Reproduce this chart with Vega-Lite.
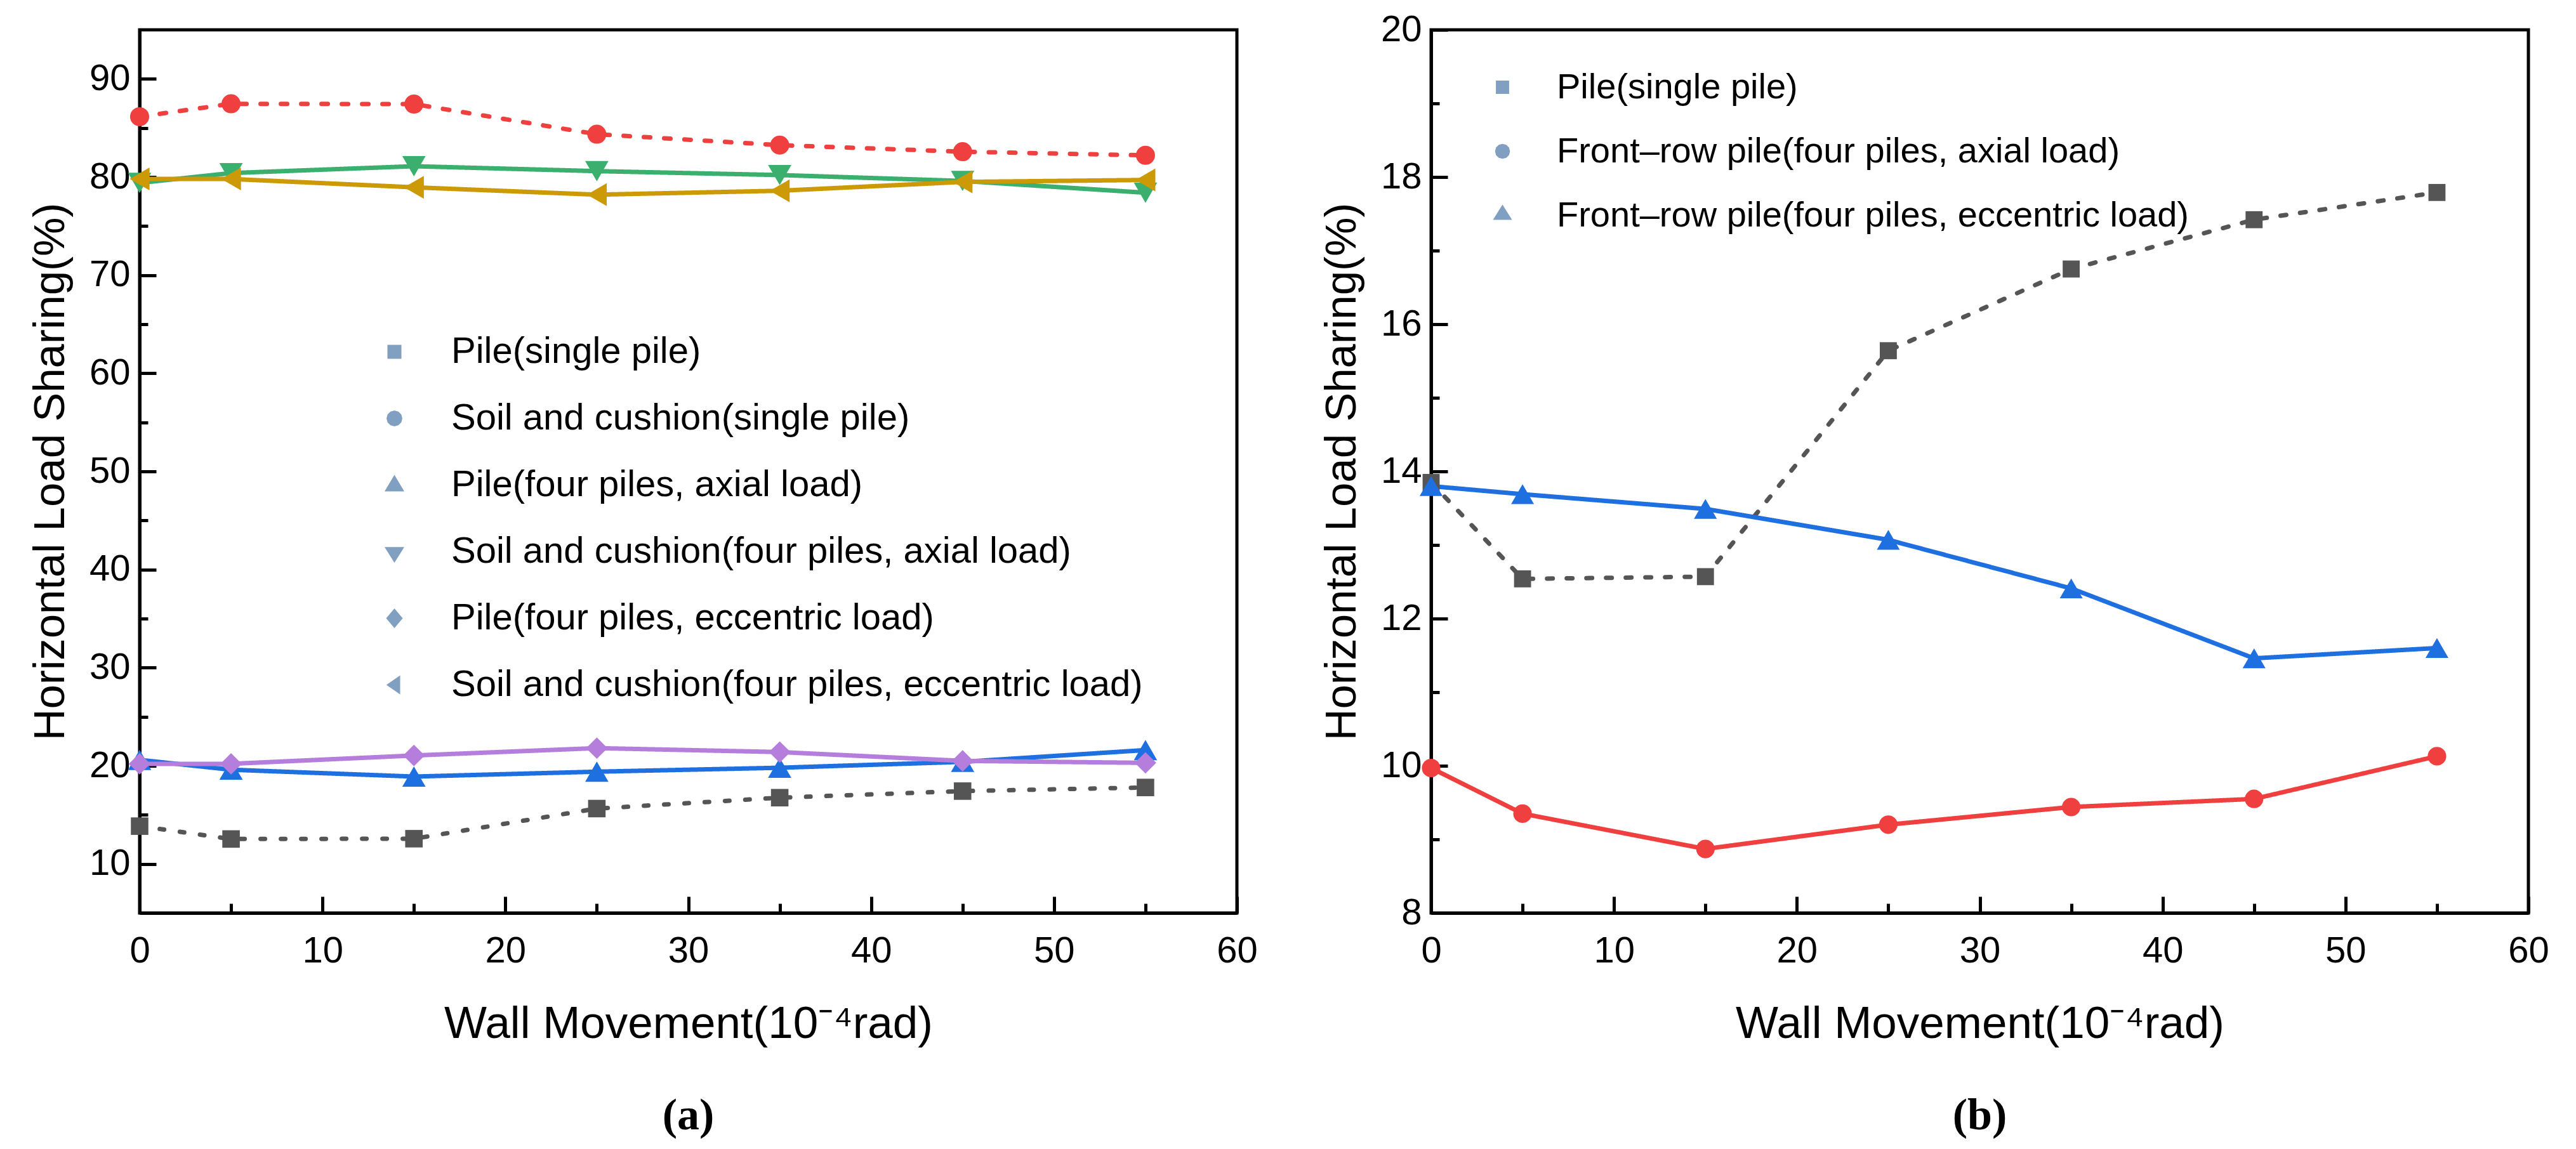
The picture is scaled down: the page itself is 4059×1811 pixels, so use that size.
{
  "$schema": "https://vega.github.io/schema/vega-lite/v6.json",
  "background": "white",
  "padding": {"left": 42, "top": 15, "right": 0, "bottom": 0},
  "datasets": {
    "a": [
      {"x": 0, "y": 13.85, "series": "Pile(single pile)"},
      {"x": 5, "y": 12.54, "series": "Pile(single pile)"},
      {"x": 15, "y": 12.57, "series": "Pile(single pile)"},
      {"x": 25, "y": 15.64, "series": "Pile(single pile)"},
      {"x": 35, "y": 16.75, "series": "Pile(single pile)"},
      {"x": 45, "y": 17.42, "series": "Pile(single pile)"},
      {"x": 55, "y": 17.79, "series": "Pile(single pile)"},
      {"x": 0, "y": 86.15, "series": "Soil and cushion(single pile)"},
      {"x": 5, "y": 87.46, "series": "Soil and cushion(single pile)"},
      {"x": 15, "y": 87.43, "series": "Soil and cushion(single pile)"},
      {"x": 25, "y": 84.36, "series": "Soil and cushion(single pile)"},
      {"x": 35, "y": 83.25, "series": "Soil and cushion(single pile)"},
      {"x": 45, "y": 82.58, "series": "Soil and cushion(single pile)"},
      {"x": 55, "y": 82.21, "series": "Soil and cushion(single pile)"},
      {"x": 0, "y": 20.6, "series": "Pile(four piles, axial load)"},
      {"x": 5, "y": 19.6, "series": "Pile(four piles, axial load)"},
      {"x": 15, "y": 18.9, "series": "Pile(four piles, axial load)"},
      {"x": 25, "y": 19.4, "series": "Pile(four piles, axial load)"},
      {"x": 35, "y": 19.8, "series": "Pile(four piles, axial load)"},
      {"x": 45, "y": 20.4, "series": "Pile(four piles, axial load)"},
      {"x": 55, "y": 21.6, "series": "Pile(four piles, axial load)"},
      {"x": 0, "y": 79.4, "series": "Soil and cushion(four piles, axial load)"},
      {"x": 5, "y": 80.4, "series": "Soil and cushion(four piles, axial load)"},
      {"x": 15, "y": 81.1, "series": "Soil and cushion(four piles, axial load)"},
      {"x": 25, "y": 80.6, "series": "Soil and cushion(four piles, axial load)"},
      {"x": 35, "y": 80.2, "series": "Soil and cushion(four piles, axial load)"},
      {"x": 45, "y": 79.6, "series": "Soil and cushion(four piles, axial load)"},
      {"x": 55, "y": 78.4, "series": "Soil and cushion(four piles, axial load)"},
      {"x": 0, "y": 20.2, "series": "Pile(four piles, eccentric load)"},
      {"x": 5, "y": 20.2, "series": "Pile(four piles, eccentric load)"},
      {"x": 15, "y": 21.05, "series": "Pile(four piles, eccentric load)"},
      {"x": 25, "y": 21.8, "series": "Pile(four piles, eccentric load)"},
      {"x": 35, "y": 21.4, "series": "Pile(four piles, eccentric load)"},
      {"x": 45, "y": 20.5, "series": "Pile(four piles, eccentric load)"},
      {"x": 55, "y": 20.3, "series": "Pile(four piles, eccentric load)"},
      {"x": 0, "y": 79.8, "series": "Soil and cushion(four piles, eccentric load)"},
      {"x": 5, "y": 79.8, "series": "Soil and cushion(four piles, eccentric load)"},
      {"x": 15, "y": 78.95, "series": "Soil and cushion(four piles, eccentric load)"},
      {"x": 25, "y": 78.2, "series": "Soil and cushion(four piles, eccentric load)"},
      {"x": 35, "y": 78.6, "series": "Soil and cushion(four piles, eccentric load)"},
      {"x": 45, "y": 79.5, "series": "Soil and cushion(four piles, eccentric load)"},
      {"x": 55, "y": 79.7, "series": "Soil and cushion(four piles, eccentric load)"}
    ],
    "b": [
      {"x": 0, "y": 13.85, "series": "Pile(single pile)"},
      {"x": 5, "y": 12.54, "series": "Pile(single pile)"},
      {"x": 15, "y": 12.57, "series": "Pile(single pile)"},
      {"x": 25, "y": 15.64, "series": "Pile(single pile)"},
      {"x": 35, "y": 16.75, "series": "Pile(single pile)"},
      {"x": 45, "y": 17.42, "series": "Pile(single pile)"},
      {"x": 55, "y": 17.79, "series": "Pile(single pile)"},
      {"x": 0, "y": 9.97, "series": "Front–row pile(four piles, axial load)"},
      {"x": 5, "y": 9.35, "series": "Front–row pile(four piles, axial load)"},
      {"x": 15, "y": 8.87, "series": "Front–row pile(four piles, axial load)"},
      {"x": 25, "y": 9.2, "series": "Front–row pile(four piles, axial load)"},
      {"x": 35, "y": 9.44, "series": "Front–row pile(four piles, axial load)"},
      {"x": 45, "y": 9.55, "series": "Front–row pile(four piles, axial load)"},
      {"x": 55, "y": 10.13, "series": "Front–row pile(four piles, axial load)"},
      {"x": 0, "y": 13.8, "series": "Front–row pile(four piles, eccentric load)"},
      {"x": 5, "y": 13.69, "series": "Front–row pile(four piles, eccentric load)"},
      {"x": 15, "y": 13.49, "series": "Front–row pile(four piles, eccentric load)"},
      {"x": 25, "y": 13.07, "series": "Front–row pile(four piles, eccentric load)"},
      {"x": 35, "y": 12.41, "series": "Front–row pile(four piles, eccentric load)"},
      {"x": 45, "y": 11.46, "series": "Front–row pile(four piles, eccentric load)"},
      {"x": 55, "y": 11.6, "series": "Front–row pile(four piles, eccentric load)"}
    ]
  },
  "spacing": 93,
  "resolve": {
    "scale": {"x": "independent", "y": "independent", "color": "independent", "shape": "independent", "strokeDash": "independent"},
    "legend": {"color": "independent", "shape": "independent", "strokeDash": "independent"}
  },
  "hconcat": [
    {
      "width": 1729,
      "height": 1392,
      "data": {"name": "a"},
      "title": {"text": "(a)", "orient": "bottom", "offset": 76},
      "layer": [
        {
          "mark": {"type": "line", "strokeWidth": 7, "strokeCap": "round"},
          "encoding": {
            "x": {"field": "x", "type": "quantitative", "scale": {"domain": [0, 60], "nice": false, "zero": false},
                  "axis": {"orient": "bottom", "values": [0, 10, 20, 30, 40, 50, 60], "title": "Wall Movement(10⁻⁴rad)"}},
            "y": {"field": "y", "type": "quantitative", "scale": {"domain": [5, 95], "nice": false, "zero": false},
                  "axis": {"orient": "left", "values": [10, 20, 30, 40, 50, 60, 70, 80, 90], "title": "Horizontal Load Sharing(%)"}},
            "color": {"field": "series", "type": "nominal", "legend": null,
                      "scale": {"domain": ["Pile(single pile)", "Soil and cushion(single pile)", "Pile(four piles, axial load)", "Soil and cushion(four piles, axial load)", "Pile(four piles, eccentric load)", "Soil and cushion(four piles, eccentric load)"],
                                "range": ["#555555", "#ef3f3f", "#1e6fe0", "#3aaf6e", "#b57edc", "#cc9a06"]}},
            "strokeDash": {"field": "series", "type": "nominal", "legend": null,
                           "scale": {"domain": ["Pile(single pile)", "Soil and cushion(single pile)", "Pile(four piles, axial load)", "Soil and cushion(four piles, axial load)", "Pile(four piles, eccentric load)", "Soil and cushion(four piles, eccentric load)"],
                                     "range": [[7, 25], [10, 22], [1, 0], [1, 0], [1, 0], [1, 0]]}}
          }
        },
        {
          "transform": [{"filter": {"field": "series", "equal": "Pile(single pile)"}}],
          "mark": {"type": "point", "filled": true, "opacity": 1, "shape": "square", "size": 760},
          "encoding": {
            "x": {"field": "x", "type": "quantitative", "axis": null},
            "y": {"field": "y", "type": "quantitative", "axis": null},
            "color": {"field": "series", "type": "nominal", "legend": null}
          }
        },
        {
          "transform": [{"filter": {"field": "series", "equal": "Soil and cushion(single pile)"}}],
          "mark": {"type": "point", "filled": true, "opacity": 1, "shape": "circle", "size": 900},
          "encoding": {
            "x": {"field": "x", "type": "quantitative", "axis": null},
            "y": {"field": "y", "type": "quantitative", "axis": null},
            "color": {"field": "series", "type": "nominal", "legend": null}
          }
        },
        {
          "transform": [{"filter": {"field": "series", "equal": "Pile(four piles, axial load)"}}],
          "mark": {"type": "point", "filled": true, "opacity": 1, "shape": "triangle-up", "size": 1350},
          "encoding": {
            "x": {"field": "x", "type": "quantitative", "axis": null},
            "y": {"field": "y", "type": "quantitative", "axis": null},
            "color": {"field": "series", "type": "nominal", "legend": null}
          }
        },
        {
          "transform": [{"filter": {"field": "series", "equal": "Soil and cushion(four piles, axial load)"}}],
          "mark": {"type": "point", "filled": true, "opacity": 1, "shape": "triangle-down", "size": 1350},
          "encoding": {
            "x": {"field": "x", "type": "quantitative", "axis": null},
            "y": {"field": "y", "type": "quantitative", "axis": null},
            "color": {"field": "series", "type": "nominal", "legend": null}
          }
        },
        {
          "transform": [{"filter": {"field": "series", "equal": "Pile(four piles, eccentric load)"}}],
          "mark": {"type": "point", "filled": true, "opacity": 1, "shape": "diamond", "size": 1150},
          "encoding": {
            "x": {"field": "x", "type": "quantitative", "axis": null},
            "y": {"field": "y", "type": "quantitative", "axis": null},
            "color": {"field": "series", "type": "nominal", "legend": null}
          }
        },
        {
          "transform": [{"filter": {"field": "series", "equal": "Soil and cushion(four piles, eccentric load)"}}],
          "mark": {"type": "point", "filled": true, "opacity": 1, "shape": "triangle-left", "size": 1300},
          "encoding": {
            "x": {"field": "x", "type": "quantitative", "axis": null},
            "y": {"field": "y", "type": "quantitative", "axis": null},
            "color": {"field": "series", "type": "nominal", "legend": null}
          }
        },
        {
          "mark": {"type": "point", "filled": true, "size": 0},
          "encoding": {
            "x": {"field": "x", "type": "quantitative",
                  "axis": {"values": [5, 15, 25, 35, 45, 55], "orient": "bottom", "labels": false, "domain": false, "title": null, "tickSize": -15}},
            "y": {"field": "y", "type": "quantitative",
                  "axis": {"values": [15, 25, 35, 45, 55, 65, 75, 85], "orient": "left", "labels": false, "domain": false, "title": null, "tickSize": -13}},
            "shape": {"field": "series", "type": "nominal",
                      "scale": {"domain": ["Pile(single pile)", "Soil and cushion(single pile)", "Pile(four piles, axial load)", "Soil and cushion(four piles, axial load)", "Pile(four piles, eccentric load)", "Soil and cushion(four piles, eccentric load)"],
                                "range": [
                                  "M-1,0L-0.77,0M-0.54,0L-0.31,0M0.31,0L0.54,0M0.77,0L1,0M-0.152,-0.152L0.152,-0.152L0.152,0.152L-0.152,0.152Z",
                                  "M-1,0L-0.77,0M-0.54,0L-0.31,0M0.31,0L0.54,0M0.77,0L1,0M0.172,0L0.149,0.086L0.086,0.149L0,0.172L-0.086,0.149L-0.149,0.086L-0.172,0L-0.149,-0.086L-0.086,-0.149L0,-0.172L0.086,-0.149L0.149,-0.086Z",
                                  "M-1,0L1,0M0,-0.22L0.214,0.138L-0.214,0.138Z",
                                  "M-1,0L1,0M0,0.24L0.214,-0.1L-0.214,-0.1Z",
                                  "M-1,0L1,0M0,-0.214L0.18,0L0,0.214L-0.18,0Z",
                                  "M-1,0L1,0M-0.175,0L0.124,-0.207L0.124,0.207Z"
                                ]},
                      "legend": {"orient": "none", "legendX": 326, "legendY": 432, "title": null, "labelFontSize": 58, "symbolSize": 21025, "symbolStrokeWidth": 6, "labelOffset": 14, "rowPadding": -105, "padding": 0, "labelLimit": 3000,
                                 "encode": {"symbols": {"update": {
                                   "size": {"value": 21025},
                                   "opacity": {"value": 1},
                                   "strokeWidth": {"value": 6},
                                   "fill": {"signal": "datum.value === 'Pile(single pile)' ? '#555555' : datum.value === 'Soil and cushion(single pile)' ? '#ef3f3f' : datum.value === 'Pile(four piles, axial load)' ? '#1e6fe0' : datum.value === 'Soil and cushion(four piles, axial load)' ? '#3aaf6e' : datum.value === 'Pile(four piles, eccentric load)' ? '#b57edc' : '#cc9a06'"},
                                   "stroke": {"signal": "datum.value === 'Pile(single pile)' ? '#555555' : datum.value === 'Soil and cushion(single pile)' ? '#ef3f3f' : datum.value === 'Pile(four piles, axial load)' ? '#1e6fe0' : datum.value === 'Soil and cushion(four piles, axial load)' ? '#3aaf6e' : datum.value === 'Pile(four piles, eccentric load)' ? '#b57edc' : '#cc9a06'"}
                                 }}}}}
          }
        }
      ],
      "resolve": {"scale": {"shape": "independent"}, "axis": {"x": "independent", "y": "independent"}}
    },
    {
      "width": 1729,
      "height": 1392,
      "data": {"name": "b"},
      "title": {"text": "(b)", "orient": "bottom", "offset": 76},
      "layer": [
        {
          "mark": {"type": "line", "strokeWidth": 7, "strokeCap": "round"},
          "encoding": {
            "x": {"field": "x", "type": "quantitative", "scale": {"domain": [0, 60], "nice": false, "zero": false},
                  "axis": {"orient": "bottom", "values": [0, 10, 20, 30, 40, 50, 60], "title": "Wall Movement(10⁻⁴rad)"}},
            "y": {"field": "y", "type": "quantitative", "scale": {"domain": [8, 20], "nice": false, "zero": false},
                  "axis": {"orient": "left", "values": [8, 10, 12, 14, 16, 18, 20], "title": "Horizontal Load Sharing(%)"}},
            "color": {"field": "series", "type": "nominal", "legend": null,
                      "scale": {"domain": ["Pile(single pile)", "Front–row pile(four piles, axial load)", "Front–row pile(four piles, eccentric load)"],
                                "range": ["#555555", "#ef3f3f", "#1e6fe0"]}},
            "strokeDash": {"field": "series", "type": "nominal", "legend": null,
                           "scale": {"domain": ["Pile(single pile)", "Front–row pile(four piles, axial load)", "Front–row pile(four piles, eccentric load)"],
                                     "range": [[9, 22], [1, 0], [1, 0]]}}
          }
        },
        {
          "transform": [{"filter": {"field": "series", "equal": "Pile(single pile)"}}],
          "mark": {"type": "point", "filled": true, "opacity": 1, "shape": "square", "size": 720},
          "encoding": {
            "x": {"field": "x", "type": "quantitative", "axis": null},
            "y": {"field": "y", "type": "quantitative", "axis": null},
            "color": {"field": "series", "type": "nominal", "legend": null}
          }
        },
        {
          "transform": [{"filter": {"field": "series", "equal": "Front–row pile(four piles, axial load)"}}],
          "mark": {"type": "point", "filled": true, "opacity": 1, "shape": "circle", "size": 850},
          "encoding": {
            "x": {"field": "x", "type": "quantitative", "axis": null},
            "y": {"field": "y", "type": "quantitative", "axis": null},
            "color": {"field": "series", "type": "nominal", "legend": null}
          }
        },
        {
          "transform": [{"filter": {"field": "series", "equal": "Front–row pile(four piles, eccentric load)"}}],
          "mark": {"type": "point", "filled": true, "opacity": 1, "shape": "triangle-up", "size": 1300},
          "encoding": {
            "x": {"field": "x", "type": "quantitative", "axis": null},
            "y": {"field": "y", "type": "quantitative", "axis": null},
            "color": {"field": "series", "type": "nominal", "legend": null}
          }
        },
        {
          "mark": {"type": "point", "filled": true, "size": 0},
          "encoding": {
            "x": {"field": "x", "type": "quantitative",
                  "axis": {"values": [5, 15, 25, 35, 45, 55], "orient": "bottom", "labels": false, "domain": false, "title": null, "tickSize": -15}},
            "y": {"field": "y", "type": "quantitative",
                  "axis": {"values": [9, 11, 13, 15, 17, 19], "orient": "left", "labels": false, "domain": false, "title": null, "tickSize": -13}},
            "shape": {"field": "series", "type": "nominal",
                      "scale": {"domain": ["Pile(single pile)", "Front–row pile(four piles, axial load)", "Front–row pile(four piles, eccentric load)"],
                                "range": [
                                  "M-1,0L-0.76,0M-0.54,0L-0.3,0M0.3,0L0.54,0M0.76,0L1,0M-0.15,-0.15L0.15,-0.15L0.15,0.15L-0.15,0.15Z",
                                  "M-1,0L1,0M0.17,0L0.147,0.085L0.085,0.147L0,0.17L-0.085,0.147L-0.147,0.085L-0.17,0L-0.147,-0.085L-0.085,-0.147L0,-0.17L0.085,-0.147L0.147,-0.085Z",
                                  "M-1,0L1,0M0,-0.245L0.216,0.1L-0.216,0.1Z"
                                ]},
                      "legend": {"orient": "none", "legendX": 40, "legendY": 18, "title": null, "labelFontSize": 56, "symbolSize": 19321, "symbolStrokeWidth": 6, "labelOffset": 13, "rowPadding": -100, "padding": 0, "labelLimit": 3000,
                                 "encode": {"symbols": {"update": {
                                   "size": {"value": 19321},
                                   "opacity": {"value": 1},
                                   "strokeWidth": {"value": 6},
                                   "fill": {"signal": "datum.value === 'Pile(single pile)' ? '#555555' : datum.value === 'Front–row pile(four piles, axial load)' ? '#ef3f3f' : '#1e6fe0'"},
                                   "stroke": {"signal": "datum.value === 'Pile(single pile)' ? '#555555' : datum.value === 'Front–row pile(four piles, axial load)' ? '#ef3f3f' : '#1e6fe0'"}
                                 }}}}}
          }
        }
      ],
      "resolve": {"scale": {"shape": "independent"}, "axis": {"x": "independent", "y": "independent"}}
    }
  ],
  "config": {
    "view": {"stroke": "black", "strokeWidth": 5},
    "font": "Liberation Sans",
    "axis": {
      "grid": false,
      "domainColor": "black",
      "domainWidth": 5,
      "tickColor": "black",
      "tickWidth": 5,
      "tickSize": -26,
      "labelFont": "Liberation Sans",
      "labelFontSize": 58,
      "labelColor": "black",
      "labelFlush": false,
      "labelOverlap": false,
      "labelBound": false,
      "titleFont": "Liberation Sans",
      "titleFontWeight": "normal",
      "titleColor": "black"
    },
    "axisX": {"labelPadding": 57, "titlePadding": 51, "titleFontSize": 71},
    "axisY": {"labelPadding": 41, "titlePadding": 26, "titleFontSize": 69},
    "legend": {"labelFont": "Liberation Sans", "labelColor": "black"},
    "title": {"font": "Liberation Serif", "fontSize": 70, "fontWeight": "bold", "color": "black", "anchor": "middle"}
  }
}
